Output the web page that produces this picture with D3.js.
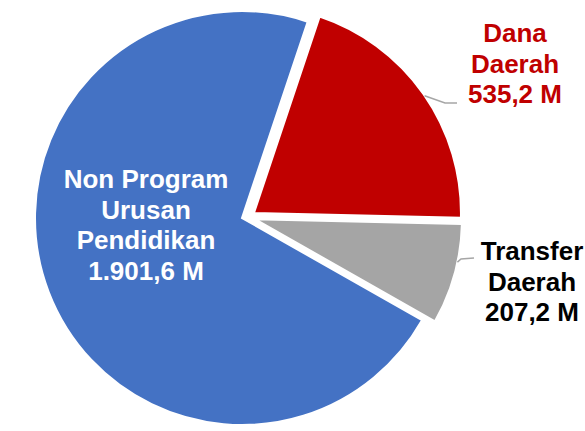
<!DOCTYPE html>
<html>
<head>
<meta charset="utf-8">
<script src="https://cdn.jsdelivr.net/npm/d3@7"></script>
<style>
  body { margin: 0; background: #fff; }
  text { font-family: "Liberation Sans", Arial, sans-serif; font-weight: bold; }
</style>
</head>
<body>
<div id="vis"></div>
<script>
// data
const categories = ["Dana Daerah", "Transfer Daerah", "Non Program Urusan Pendidikan"]
const categoryLines = [["Dana", "Daerah"], ["Transfer", "Daerah"], ["Non Program", "Urusan", "Pendidikan"]]
const values = [535.2, 207.2, 1901.6]

const colors = ["#C00000", "#A5A5A5", "#4472C4"]
const textColors = ["#C00000", "#000000", "#ffffff"]
// how far each slice is pulled out, and in which direction (deg, clockwise from top)
const explode = [13, 13, 0]
const explodeDir = [67, 95, 0]

const width = 585, height = 431
const cx = 242, cy = 218, radius = 207
const startAngle = 18.5 * Math.PI / 180

// label layout (relative to pie centre)
const labelPos = [
    { x: 273, y: -176 },
    { x: 290, y: 42 },
    { x: -96, y: -30 }
]
// leader lines: angle on the arc (deg), elbow and end relative to centre
const leaders = [
    { angle: 55.5, elbow: [203, -115], end: [215, -115] },
    { angle: 102, elbow: [219, 41], end: [232, 40] }
]
const lineHeight = 30.5

const idFormat = d3.formatLocale({ decimal: ",", thousands: ".", grouping: [3] }).format(",.1f")

const svg = d3.select("#vis").append("svg")
    .attr("width", width)
    .attr("height", height)

const g = svg.append("g")
    .attr("transform", `translate(${cx},${cy})`)

const pie = d3.pie()
    .sort(null)
    .value(d => d)
    .startAngle(startAngle)
    .endAngle(startAngle + 2 * Math.PI)

const arcs = pie(values)

const arc = d3.arc()
    .innerRadius(0)
    .outerRadius(radius)

function offset(i) {
    let a = explodeDir[i] * Math.PI / 180
    return [Math.sin(a) * explode[i], -Math.cos(a) * explode[i]]
}

g.selectAll("path.slice")
    .data(arcs)
    .join("path")
    .attr("class", "slice")
    .attr("d", arc)
    .attr("fill", (d, i) => colors[i])
    .attr("stroke", "#fff")
    .attr("stroke-width", 2)
    .attr("stroke-linejoin", "miter")
    .attr("transform", (d, i) => {
        let o = offset(i)
        return `translate(${o[0]},${o[1]})`
    })

// leader lines
leaders.forEach((l, i) => {
    let o = offset(i)
    let a = l.angle * Math.PI / 180
    let sx = o[0] + Math.sin(a) * radius
    let sy = o[1] - Math.cos(a) * radius
    g.append("path")
        .attr("d", d3.line()([[sx, sy], l.elbow, l.end]))
        .attr("fill", "none")
        .attr("stroke", "#A6A6A6")
        .attr("stroke-width", 1.5)
})

// labels
arcs.forEach((d, i) => {
    let lines = categoryLines[i].concat([idFormat(values[i]) + " M"])
    let t = g.append("text")
        .attr("text-anchor", "middle")
        .attr("fill", textColors[i])
        .style("font-size", "26px")
    lines.forEach((s, j) => {
        t.append("tspan")
            .attr("x", labelPos[i].x)
            .attr("y", labelPos[i].y + j * lineHeight)
            .text(s)
    })
})
</script>
</body>
</html>
